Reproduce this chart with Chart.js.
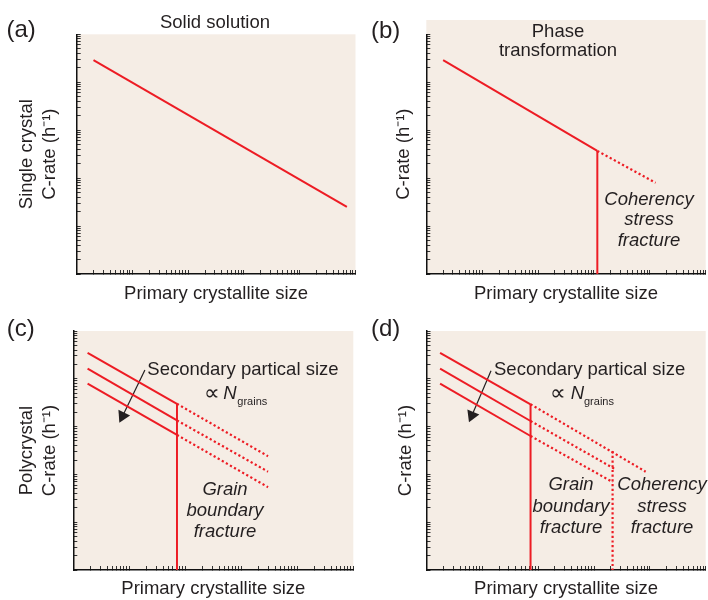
<!DOCTYPE html>
<html>
<head>
<meta charset="utf-8">
<title>C-rate vs primary crystallite size</title>
<script src="https://cdn.jsdelivr.net/npm/chart.js@4.4.1/dist/chart.umd.min.js"></script>
<style>
  html, body { margin: 0; padding: 0; background: #fff; }
  #wrap { position: relative; width: 708px; height: 600px; }
  #wrap canvas { position: absolute; left: 0; top: 0; }
</style>
</head>
<body>
<div id="wrap">
  <canvas id="panelA" width="708" height="600"></canvas>
  <canvas id="panelB" width="708" height="600"></canvas>
  <canvas id="panelC" width="708" height="600"></canvas>
  <canvas id="panelD" width="708" height="600"></canvas>
</div>
<script>
// both axes are log, five decades, no numbers shown
const axisMin = 1, axisMax = 100000;
const xTitle = 'Primary crystallite size';

// (a) solid solution
const solidSizes = [2, 70000];
const solidRates = [29000, 25];

// (b) phase transformation
const phaseSizes = [2, 1150];
const phaseRates = [29000, 370];
const phaseExtSizes = [1150, 12700];
const phaseExtRates = [370, 80];
const phaseCrackSizes = [1150, 1150];
const phaseCrackRates = [370, 1];

// (c) polycrystal, three secondary particle sizes
const polySizes = [1.8, 71];
const polyRates = [[35000, 3000], [16300, 1350], [7900, 670]];
const polyExtSizes = [71, 3000];
const polyExtRates = [[3000, 240], [1350, 114], [670, 54]];
const gbCrackSizes = [71, 71];
const gbCrackRates = [3000, 1];
const polyArrowSizes = [19, 7.6];
const polyArrowRates = [15300, 1670];

// (d) polycrystal + phase transformation
const mixSizes = [1.75, 73];
const mixRates = [[35000, 2930], [16300, 1310], [7900, 636]];
const mixExtSizes = [[73, 8400], [73, 2400], [73, 2160]];
const mixExtRates = [[2930, 114], [1310, 128], [636, 69]];
const mixGbSizes = [73, 73];
const mixGbRates = [2930, 1];
const mixCohSizes = [2150, 2150];
const mixCohRates = [307, 1];
const mixArrowSizes = [14.3, 6.5];
const mixArrowRates = [14800, 1715];

const RED = '#ed1c24';
const INK = '#231f20';
const BG = '#f5ede5';
const FONT = "'Liberation Sans', Arial, Helvetica, sans-serif";

Chart.defaults.font.family = FONT;
Chart.defaults.color = INK;

function pts(xs, ys) {
  return xs.map((x, i) => ({ x: x, y: ys[i] }));
}
function solid(xs, ys) {
  return { data: pts(xs, ys), borderColor: RED, borderWidth: 2, pointRadius: 0 };
}
function dotted(xs, ys) {
  return { data: pts(xs, ys), borderColor: RED, borderWidth: 2.2, borderDash: [2.2, 2.5], pointRadius: 0 };
}
function arrow(xs, ys, angle) {
  return {
    data: pts(xs, ys), borderColor: INK, borderWidth: 1.2,
    pointRadius: [0, 7.5], pointStyle: 'triangle', pointRotation: angle,
    pointBackgroundColor: INK, pointBorderWidth: 0
  };
}

// beige plot background, optionally reaching above the plot
const bgPlugin = {
  id: 'panelBg',
  beforeDraw(chart, args, opts) {
    const a = chart.chartArea, ctx = chart.ctx;
    const up = opts.extendTop || 0;
    ctx.save();
    ctx.fillStyle = BG;
    ctx.fillRect(a.left, a.top - up, a.right - a.left, a.bottom - a.top + up);
    ctx.restore();
  }
};

// free text: panel letters, titles, notes
const textPlugin = {
  id: 'panelText',
  afterDraw(chart, args, opts) {
    const ctx = chart.ctx;
    (opts.items || []).forEach(t => {
      ctx.save();
      ctx.font = (t.italic ? 'italic ' : '') + (t.size || 18.5) + 'px ' + FONT;
      ctx.fillStyle = INK;
      ctx.textAlign = t.align || 'center';
      ctx.textBaseline = 'alphabetic';
      ctx.fillText(t.text, t.x, t.y);
      ctx.restore();
    });
  }
};

function logAxis(isX, title, size, titlePad) {
  return {
    type: 'logarithmic',
    position: isX ? 'bottom' : 'left',
    min: axisMin,
    max: axisMax,
    ticks: { display: false },
    grid: { drawOnChartArea: false, tickLength: -4, tickColor: '#333', tickWidth: 1 },
    border: { color: '#111', width: 1.5 },
    title: {
      display: true, text: title, color: INK,
      font: { size: 18.5, lineHeight: 1.25 },
      padding: isX ? { top: 0, bottom: 0 } : { top: titlePad, bottom: 0 }
    },
    // only 1..9 x 10^n marks, drop the 1.5 ones
    afterBuildTicks: s => {
      s.ticks = s.ticks.filter(t => {
        const m = t.value / Math.pow(10, Math.floor(Math.log10(t.value) + 1e-9));
        return Math.abs(m - Math.round(m)) < 1e-6;
      });
    },
    afterFit: s => {
      if (isX) s.height = size; else s.width = size;
    }
  };
}

function makePanel(id, cfg) {
  return new Chart(document.getElementById(id), {
    type: 'line',
    data: { datasets: cfg.datasets },
    options: {
      responsive: false,
      animation: false,
      layout: { autoPadding: false, padding: cfg.padding },
      plugins: {
        legend: { display: false },
        tooltip: { enabled: false },
        panelBg: { extendTop: cfg.bgUp || 0 },
        panelText: { items: cfg.texts }
      },
      scales: {
        x: logAxis(true, xTitle, cfg.xHeight),
        y: logAxis(false, cfg.yTitle, cfg.yWidth, cfg.yTitlePad)
      }
    },
    plugins: [bgPlugin, textPlugin]
  });
}

makePanel('panelA', {
  padding: { left: 0, top: 34.3, right: 352.5, bottom: 294.4 },
  xHeight: 31.6, yWidth: 76.7, yTitlePad: 15.1,
  yTitle: ['Single crystal', 'C-rate (h\u207B\u00B9)'],
  datasets: [solid(solidSizes, solidRates)],
  texts: [
    { text: '(a)', x: 6.5, y: 37, size: 24, align: 'left' },
    { text: 'Solid solution', x: 215, y: 28 }
  ]
});

makePanel('panelB', {
  padding: { left: 354, top: 34.3, right: 2.3, bottom: 294.4 },
  xHeight: 31.6, yWidth: 72.3, yTitlePad: 38.4, bgUp: 14.3,
  yTitle: 'C-rate (h\u207B\u00B9)',
  datasets: [
    solid(phaseSizes, phaseRates),
    dotted(phaseExtSizes, phaseExtRates),
    solid(phaseCrackSizes, phaseCrackRates)
  ],
  texts: [
    { text: '(b)', x: 371, y: 37.5, size: 24, align: 'left' },
    { text: 'Phase', x: 558, y: 36.7 },
    { text: 'transformation', x: 558, y: 55.7 },
    { text: 'Coherency', x: 649, y: 204.5, italic: true },
    { text: 'stress', x: 649, y: 225, italic: true },
    { text: 'fracture', x: 649, y: 245.5, italic: true }
  ]
});

makePanel('panelC', {
  padding: { left: 0, top: 331, right: 354.7, bottom: 0 },
  xHeight: 30, yWidth: 73.3, yTitlePad: 15.1,
  yTitle: ['Polycrystal', 'C-rate (h\u207B\u00B9)'],
  datasets: [
    ...polyRates.map(r => solid(polySizes, r)),
    ...polyExtRates.map(r => dotted(polyExtSizes, r)),
    solid(gbCrackSizes, gbCrackRates),
    arrow(polyArrowSizes, polyArrowRates, 206)
  ],
  texts: [
    { text: '(c)', x: 6.8, y: 336, size: 24, align: 'left' },
    { text: 'Secondary partical size', x: 147.3, y: 375, align: 'left' },
    { text: '\u221D', x: 204, y: 399.5, size: 22, align: 'left' },
    { text: 'N', x: 223.3, y: 399, italic: true, align: 'left' },
    { text: 'grains', x: 237.3, y: 404.5, size: 11, align: 'left' },
    { text: 'Grain', x: 225, y: 495, italic: true },
    { text: 'boundary', x: 225, y: 516, italic: true },
    { text: 'fracture', x: 225, y: 537, italic: true }
  ]
});

makePanel('panelD', {
  padding: { left: 354, top: 331, right: 2.3, bottom: 0 },
  xHeight: 30, yWidth: 72.5, yTitlePad: 40.1,
  yTitle: 'C-rate (h\u207B\u00B9)',
  datasets: [
    ...mixRates.map(r => solid(mixSizes, r)),
    ...mixExtRates.map((r, i) => dotted(mixExtSizes[i], r)),
    solid(mixGbSizes, mixGbRates),
    dotted(mixCohSizes, mixCohRates),
    arrow(mixArrowSizes, mixArrowRates, 203)
  ],
  texts: [
    { text: '(d)', x: 371, y: 336, size: 24, align: 'left' },
    { text: 'Secondary partical size', x: 494, y: 375, align: 'left' },
    { text: '\u221D', x: 549.7, y: 399.5, size: 22, align: 'left' },
    { text: 'N', x: 570.7, y: 399, italic: true, align: 'left' },
    { text: 'grains', x: 584, y: 404.5, size: 11, align: 'left' },
    { text: 'Grain', x: 571, y: 490, italic: true },
    { text: 'boundary', x: 571, y: 511.5, italic: true },
    { text: 'fracture', x: 571, y: 533, italic: true },
    { text: 'Coherency', x: 662, y: 490, italic: true },
    { text: 'stress', x: 662, y: 511.5, italic: true },
    { text: 'fracture', x: 662, y: 533, italic: true }
  ]
});
</script>
</body>
</html>
